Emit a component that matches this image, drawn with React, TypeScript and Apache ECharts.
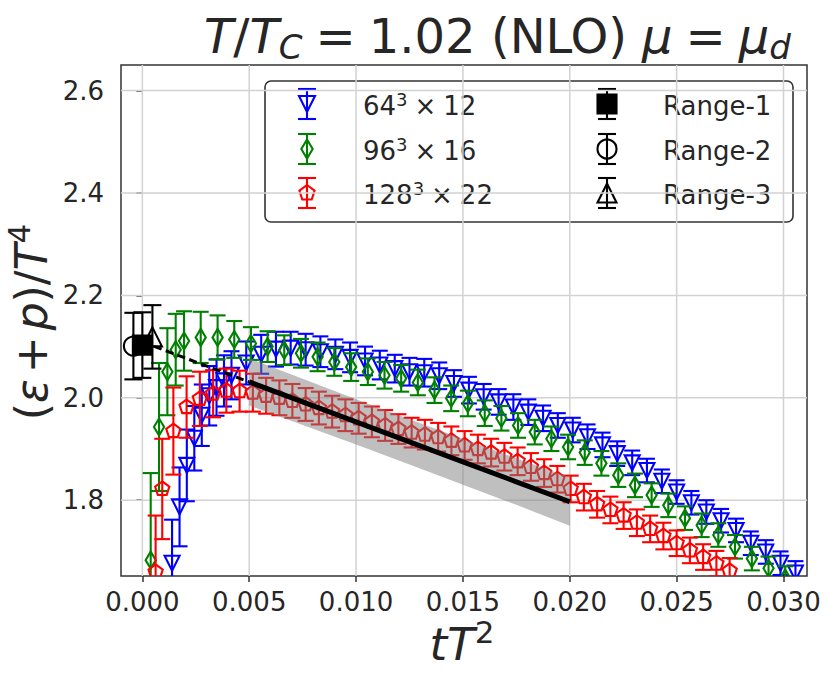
import React, { useEffect, useRef } from 'react';
import * as echarts from 'echarts';

// ---------------- data ----------------
const blueX = [0.00139, 0.00174, 0.00208, 0.00243, 0.00278, 0.00313, 0.00347, 0.00382, 0.00417, 0.00486, 0.00556, 0.00625, 0.00694, 0.00764, 0.00833, 0.00903, 0.00972, 0.01042, 0.01111, 0.01181, 0.0125, 0.01319, 0.01389, 0.01458, 0.01528, 0.01597, 0.01667, 0.01736, 0.01806, 0.01875, 0.01944, 0.02014, 0.02083, 0.02153, 0.02222, 0.02292, 0.02361, 0.02431, 0.025, 0.02569, 0.02639, 0.02708, 0.02778, 0.02847, 0.02917, 0.02986, 0.03056];
const blueY = [1.677, 1.787, 1.868, 1.921, 1.966, 2.004, 2.02, 2.033, 2.044, 2.068, 2.085, 2.095, 2.097, 2.094, 2.09, 2.085, 2.079, 2.072, 2.064, 2.057, 2.051, 2.049, 2.043, 2.028, 2.015, 2.002, 1.992, 1.982, 1.972, 1.96, 1.946, 1.937, 1.924, 1.908, 1.891, 1.873, 1.858, 1.837, 1.816, 1.795, 1.777, 1.76, 1.741, 1.716, 1.699, 1.677, 1.658];
const blueErr = [0.085, 0.077, 0.07, 0.063, 0.06, 0.058, 0.055, 0.05, 0.047, 0.042, 0.038, 0.034, 0.032, 0.031, 0.03, 0.029, 0.029, 0.028, 0.028, 0.027, 0.027, 0.027, 0.026, 0.026, 0.026, 0.025, 0.025, 0.025, 0.025, 0.025, 0.024, 0.024, 0.024, 0.024, 0.024, 0.024, 0.023, 0.023, 0.023, 0.023, 0.023, 0.023, 0.023, 0.023, 0.023, 0.023, 0.023];

const greenX = [0.00039, 0.00078, 0.00117, 0.00156, 0.00195, 0.00273, 0.00352, 0.0043, 0.00508, 0.00586, 0.00664, 0.00742, 0.0082, 0.00898, 0.00977, 0.01055, 0.01133, 0.01211, 0.01289, 0.01367, 0.01445, 0.01523, 0.01602, 0.0168, 0.01758, 0.01836, 0.01914, 0.01992, 0.0207, 0.02148, 0.02227, 0.02305, 0.02383, 0.02461, 0.02539, 0.02617, 0.02695, 0.02773, 0.02852, 0.0293, 0.03008];
const greenY = [1.683, 1.943, 2.051, 2.094, 2.111, 2.118, 2.118, 2.114, 2.106, 2.1, 2.093, 2.087, 2.08, 2.07, 2.06, 2.051, 2.044, 2.038, 2.03, 2.015, 1.999, 1.989, 1.97, 1.96, 1.946, 1.933, 1.92, 1.904, 1.893, 1.872, 1.849, 1.829, 1.81, 1.79, 1.765, 1.751, 1.732, 1.709, 1.686, 1.667, 1.648];
const greenErr = [0.17, 0.125, 0.085, 0.07, 0.058, 0.05, 0.043, 0.036, 0.032, 0.03, 0.029, 0.028, 0.028, 0.027, 0.027, 0.026, 0.026, 0.026, 0.025, 0.025, 0.025, 0.025, 0.025, 0.024, 0.024, 0.024, 0.024, 0.024, 0.024, 0.024, 0.023, 0.023, 0.023, 0.023, 0.023, 0.023, 0.023, 0.023, 0.023, 0.023, 0.023];

const redX = [0.00062, 0.00093, 0.00145, 0.00207, 0.00269, 0.00331, 0.00393, 0.00455, 0.00517, 0.00579, 0.00641, 0.00702, 0.00764, 0.00826, 0.00888, 0.0095, 0.01012, 0.01074, 0.01136, 0.01198, 0.0126, 0.01322, 0.01384, 0.01446, 0.01508, 0.0157, 0.01632, 0.01694, 0.01756, 0.01818, 0.0188, 0.01942, 0.02004, 0.02066, 0.02128, 0.0219, 0.02252, 0.02314, 0.02376, 0.02438, 0.025, 0.02562, 0.02624, 0.02686, 0.02748];
const redY = [1.66, 1.822, 1.935, 1.982, 1.998, 2.008, 2.014, 2.013, 2.01, 2.004, 2.0, 1.994, 1.987, 1.98, 1.973, 1.966, 1.96, 1.953, 1.946, 1.939, 1.932, 1.928, 1.923, 1.916, 1.907, 1.9, 1.893, 1.885, 1.876, 1.865, 1.853, 1.841, 1.822, 1.806, 1.792, 1.781, 1.77, 1.756, 1.744, 1.73, 1.716, 1.702, 1.689, 1.676, 1.662];
const redErr = [0.11, 0.098, 0.085, 0.06, 0.053, 0.046, 0.043, 0.04, 0.037, 0.035, 0.034, 0.033, 0.032, 0.032, 0.031, 0.031, 0.03, 0.03, 0.03, 0.029, 0.029, 0.029, 0.028, 0.028, 0.028, 0.028, 0.027, 0.027, 0.027, 0.027, 0.027, 0.026, 0.026, 0.026, 0.026, 0.026, 0.026, 0.026, 0.026, 0.026, 0.025, 0.025, 0.025, 0.025, 0.025];

// Range-1 (square), Range-2 (circle), Range-3 (triangle up)
const rangeNames = ['Range-1', 'Range-2', 'Range-3'];
const rangeX = [0.0, -0.00042, 0.00047];
const rangeY = [2.103, 2.101, 2.119];
const rangeErr = [0.064, 0.065, 0.062];

// continuum fit line and its uncertainty band
const fitX = [0.005, 0.0075, 0.01, 0.0125, 0.015, 0.0175, 0.02];
const fitY = [2.031, 1.992, 1.953, 1.914, 1.875, 1.836, 1.797];
const bandLow = [1.985, 1.947, 1.909, 1.87, 1.83, 1.791, 1.75];
const bandHigh = [2.077, 2.037, 1.997, 1.958, 1.92, 1.882, 1.845];
const dashX = [0.0, 0.005];
const dashY = [2.109, 2.031];

const xTicks = [0, 0.005, 0.01, 0.015, 0.02, 0.025, 0.03];
const yTicks = [1.8, 2.0, 2.2, 2.4, 2.6];
const X_MIN = -0.001;
const X_MAX = 0.0311;
const Y_MIN = 1.652;
const Y_MAX = 2.65;

// ---------------- styling ----------------
const BLUE = '#0000ff';
const GREEN = '#008000';
const RED = '#ff0000';
const BLACK = '#000000';
const TXT = '#262626';
const GRIDC = '#d2d2d2';
const FONT = 'DejaVu Sans';
const LW = 2.1;

function markerEl(kind: string, cx: number, cy: number, s: number, color: string) {
  const h = s / 2;
  const st = { stroke: color, lineWidth: LW, fill: 'none' };
  if (kind === 'tdown') return { type: 'polygon', shape: { points: [[cx - h, cy - h], [cx + h, cy - h], [cx, cy + h]] }, style: st };
  if (kind === 'tup') return { type: 'polygon', shape: { points: [[cx, cy - h], [cx + h, cy + h], [cx - h, cy + h]] }, style: st };
  if (kind === 'thind') return { type: 'polygon', shape: { points: [[cx, cy - h], [cx + 0.6 * h, cy], [cx, cy + h], [cx - 0.6 * h, cy]] }, style: st };
  if (kind === 'pent') {
    const pts: number[][] = [];
    for (let k = 0; k < 5; k++) {
      const a = -Math.PI / 2 + (k * 2 * Math.PI) / 5;
      pts.push([cx + h * Math.cos(a), cy + h * Math.sin(a)]);
    }
    return { type: 'polygon', shape: { points: pts }, style: st };
  }
  if (kind === 'square') return { type: 'rect', shape: { x: cx - h, y: cy - h, width: s, height: s }, style: { fill: color, stroke: color, lineWidth: LW } };
  return { type: 'circle', shape: { cx, cy, r: h }, style: st };
}

function barEls(cx: number, yt: number, yb: number, cap: number, color: string) {
  const st = { stroke: color, lineWidth: LW };
  return [
    { type: 'line', shape: { x1: cx, y1: yt, x2: cx, y2: yb }, style: st },
    { type: 'line', shape: { x1: cx - cap, y1: yt, x2: cx + cap, y2: yt }, style: st },
    { type: 'line', shape: { x1: cx - cap, y1: yb, x2: cx + cap, y2: yb }, style: st },
  ];
}

function errorSeries(name: string, xs: number[], ys: number[], es: number[], color: string, kinds: string[], size: number, cap: number, z: number) {
  return {
    type: 'custom',
    name,
    z,
    clip: true,
    silent: true,
    data: xs.map((x, i) => [x, ys[i], es[i]]),
    encode: { x: 0, y: 1 },
    renderItem: (params: any, api: any) => {
      const x = api.value(0);
      const y = api.value(1);
      const e = api.value(2);
      const c = api.coord([x, y]);
      const t = api.coord([x, y + e]);
      const b = api.coord([x, y - e]);
      const kind = kinds[params.dataIndex % kinds.length];
      return {
        type: 'group',
        children: [...barEls(c[0], t[1], b[1], cap, color), markerEl(kind, c[0], c[1], size, color)],
      };
    },
  };
}

// legend layout
const LEG = { x: 265, y: 81, w: 528, h: 141 };
const legRows = [104, 149, 193];
const legCol1 = 307;
const legCol2 = 607;
const legText1 = 363;
const legText2 = 663;

function legendEntry(cx: number, cy: number, kind: string, size: number, color: string) {
  return [...barEls(cx, cy - 15, cy + 15, 9, color), markerEl(kind, cx, cy, size, color)];
}

const mathRich = (fs: number, lh: number) => ({
  m: { fontFamily: FONT, fontSize: fs, fill: TXT, lineHeight: lh },
  i: { fontFamily: FONT, fontSize: fs, fill: TXT, fontStyle: 'italic', lineHeight: lh },
});

export default function App() {
  const ref = useRef<HTMLDivElement>(null);
  useEffect(() => {
    if (!ref.current) return;
    const chart = echarts.init(ref.current, undefined, { renderer: 'svg' });

    const legendChildren: any[] = [
      { type: 'rect', shape: { x: LEG.x, y: LEG.y, width: LEG.w, height: LEG.h, r: 6 }, style: { fill: 'rgba(255,255,255,0.8)', stroke: '#333333', lineWidth: 1.6 } },
      ...legendEntry(legCol1, legRows[0], 'tdown', 16, BLUE),
      ...legendEntry(legCol1, legRows[1], 'thind', 19, GREEN),
      ...legendEntry(legCol1, legRows[2], 'pent', 16, RED),
      ...legendEntry(legCol2, legRows[0], 'square', 19, BLACK),
      ...legendEntry(legCol2, legRows[1], 'circle', 19, BLACK),
      ...legendEntry(legCol2, legRows[2], 'tup', 19, BLACK),
    ];
    const legLabels = [
      '{m|64}{sup|3}{op|×}{m|12}',
      '{m|96}{sup|3}{op|×}{m|16}',
      '{m|128}{sup|3}{op|×}{m|22}',
    ];
    const legRich = {
      ...mathRich(26, 34),
      sup: { fontFamily: FONT, fontSize: 18, fill: TXT, lineHeight: 34, padding: [0, 0, 14, 0] },
      op: { fontFamily: FONT, fontSize: 26, fill: TXT, lineHeight: 34, padding: [0, 7, 0, 7] },
    };
    legLabels.forEach((t, k) => {
      legendChildren.push({ type: 'text', x: legText1, y: legRows[k] + 2, style: { text: t, rich: legRich, align: 'left', verticalAlign: 'middle' } });
    });
    rangeNames.forEach((t, k) => {
      legendChildren.push({ type: 'text', x: legText2, y: legRows[k] + 2, style: { text: t, fontFamily: FONT, fontSize: 26, fill: TXT, align: 'left', verticalAlign: 'middle' } });
    });

    const titleRich = {
      ...mathRich(48, 60),
      sub: { fontFamily: FONT, fontSize: 34, fill: TXT, fontStyle: 'italic', lineHeight: 60, padding: [22, 0, 0, 0] },
      eq: { fontFamily: FONT, fontSize: 48, fill: TXT, lineHeight: 60, padding: [0, 13, 0, 13] },
      mu: { fontFamily: FONT, fontSize: 48, fill: TXT, fontStyle: 'italic', lineHeight: 60, padding: [0, 0, 0, 15] },
    };
    const yLabRich = {
      ...mathRich(44, 50),
      op: { fontFamily: FONT, fontSize: 44, fill: TXT, lineHeight: 50, padding: [0, 6, 0, 6] },
      sup: { fontFamily: FONT, fontSize: 31, fill: TXT, lineHeight: 50, padding: [0, 0, 25, 0] },
    };
    const xLabRich = {
      ...mathRich(45, 44),
      sup: { fontFamily: FONT, fontSize: 31, fill: TXT, lineHeight: 44, padding: [0, 0, 25, 0] },
    };

    const option: any = {
      animation: false,
      backgroundColor: '#ffffff',
      grid: { left: 121, top: 65, width: 686, height: 511, show: true, borderColor: '#333333', borderWidth: 1.5, backgroundColor: '#ffffff' },
      xAxis: {
        type: 'value', min: X_MIN, max: X_MAX,
        axisLine: { show: false },
        axisTick: { show: true, customValues: xTicks, length: 6, lineStyle: { color: '#333333', width: 1.5 } },
        axisLabel: { customValues: xTicks, formatter: (v: number) => v.toFixed(3), fontFamily: FONT, fontSize: 26, color: TXT, margin: 13 },
        splitLine: { show: false },
      },
      yAxis: {
        type: 'value', min: Y_MIN, max: Y_MAX,
        axisLine: { show: false },
        axisTick: { show: true, customValues: yTicks, length: 6, lineStyle: { color: '#333333', width: 1.5 } },
        axisLabel: { customValues: yTicks, formatter: (v: number) => v.toFixed(1), fontFamily: FONT, fontSize: 26, color: TXT, margin: 17 },
        splitLine: { show: false },
      },
      series: [
        {
          type: 'custom', z: 1, silent: true, clip: true,
          data: xTicks.map((v) => [v, Y_MIN]),
          renderItem: (p: any, api: any) => {
            const a = api.coord([api.value(0), Y_MIN]);
            const b = api.coord([api.value(0), Y_MAX]);
            return { type: 'line', shape: { x1: a[0], y1: a[1], x2: b[0], y2: b[1] }, style: { stroke: GRIDC, lineWidth: 1.5 } };
          },
        },
        {
          type: 'custom', z: 1, silent: true, clip: true,
          data: yTicks.map((v) => [X_MIN, v]),
          renderItem: (p: any, api: any) => {
            const a = api.coord([X_MIN, api.value(1)]);
            const b = api.coord([X_MAX, api.value(1)]);
            return { type: 'line', shape: { x1: a[0], y1: a[1], x2: b[0], y2: b[1] }, style: { stroke: GRIDC, lineWidth: 1.5 } };
          },
        },
        errorSeries('64^3 x 12', blueX, blueY, blueErr, BLUE, ['tdown'], 15, 8, 3),
        errorSeries('96^3 x 16', greenX, greenY, greenErr, GREEN, ['thind'], 17, 8, 4),
        errorSeries('128^3 x 22', redX, redY, redErr, RED, ['pent'], 15, 8, 5),
        {
          type: 'custom', z: 6, silent: true, clip: true,
          data: [[fitX[0], fitY[0]]],
          renderItem: (p: any, api: any) => {
            const pts: number[][] = [];
            fitX.forEach((x, i) => pts.push(api.coord([x, bandHigh[i]])));
            for (let i = fitX.length - 1; i >= 0; i--) pts.push(api.coord([fitX[i], bandLow[i]]));
            return { type: 'polygon', shape: { points: pts }, style: { fill: 'rgba(128,128,128,0.5)' } };
          },
        },
        {
          type: 'line', z: 7, silent: true, showSymbol: false, symbol: 'none',
          data: fitX.map((x, i) => [x, fitY[i]]),
          lineStyle: { color: BLACK, width: 5 },
        },
        {
          type: 'line', z: 7, silent: true, showSymbol: false, symbol: 'none',
          data: dashX.map((x, i) => [x, dashY[i]]),
          lineStyle: { color: BLACK, width: 3, type: [8, 4.5] },
        },
        errorSeries('Range', rangeX, rangeY, rangeErr, BLACK, ['square', 'circle', 'tup'], 19, 9, 8),
      ],
      graphic: [
        { type: 'group', z: 100, children: legendChildren },
        {
          type: 'text', z: 100, x: 204, y: 36,
          style: { text: '{i|T}{m|/}{i|T}{sub|C}{eq|=}{m|1.02 (NLO)}{mu|μ}{eq|=}{i|μ}{sub|d}', rich: titleRich, align: 'left', verticalAlign: 'middle' },
        },
        {
          type: 'text', z: 100, x: 31, y: 322, rotation: Math.PI / 2,
          style: { text: '{m|(}{i|ε}{op|+}{i|p}{m|)/}{i|T}{sup|4}', rich: yLabRich, align: 'center', verticalAlign: 'middle' },
        },
        {
          type: 'text', z: 100, x: 462, y: 644,
          style: { text: '{i|tT}{sup|2}', rich: xLabRich, align: 'center', verticalAlign: 'middle' },
        },
      ],
    };
    chart.setOption(option);
    return () => chart.dispose();
  }, []);
  return <div ref={ref} style={{ position: 'fixed', left: 0, top: 0, width: 831, height: 674 }} />;
}
